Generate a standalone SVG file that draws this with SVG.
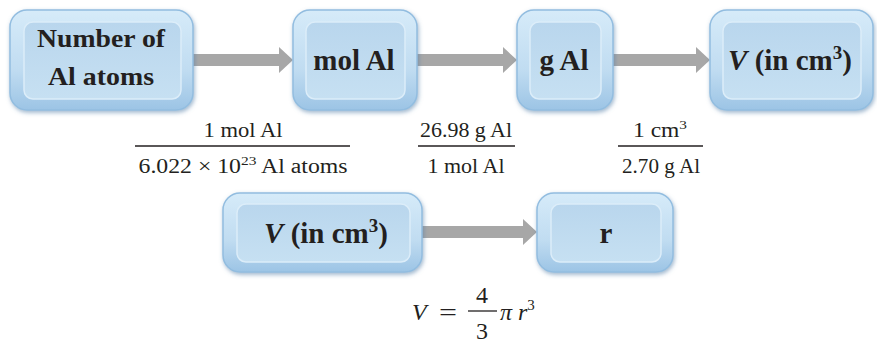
<svg xmlns="http://www.w3.org/2000/svg" width="877" height="344" viewBox="0 0 877 344">
<defs>
<linearGradient id="outer" x1="0" y1="0" x2="0" y2="1">
<stop offset="0" stop-color="#d6ebf9"/>
<stop offset="0.6" stop-color="#c0dcf1"/>
<stop offset="1" stop-color="#9cc4e5"/>
</linearGradient>
<linearGradient id="inner" x1="0" y1="0" x2="0" y2="1">
<stop offset="0" stop-color="#b9d6ed"/>
<stop offset="1" stop-color="#c6e0f2"/>
</linearGradient>
<filter id="sh" x="-10%" y="-10%" width="125%" height="130%">
<feDropShadow dx="1" dy="2" stdDeviation="2" flood-color="#4f7ba6" flood-opacity="0.55"/>
</filter>
<marker id="ah" markerUnits="userSpaceOnUse" markerWidth="14" markerHeight="26" viewBox="0 0 14 26" refX="0" refY="13" orient="auto">
<path d="M0,0 L14,13 L0,26 Z" fill="#a7a7a7"/>
</marker>
</defs>
<style>
.ob{fill:url(#outer);stroke:#92bde0;stroke-width:1.5;filter:url(#sh)}
.ib{fill:url(#inner);stroke:#dcedf9;stroke-width:1.5}
.lb{font-family:"Liberation Serif",serif;font-weight:bold;fill:#231f20;text-anchor:middle}
.fr{font-family:"Liberation Serif",serif;font-size:20px;fill:#231f20;text-anchor:middle}
.ln{stroke:#231f20;stroke-width:1.3}
.ar{stroke:#a7a7a7;stroke-width:12;marker-end:url(#ah)}
</style>
<rect width="877" height="344" fill="#ffffff"/>

<g id="connectors">
<line class="ar" x1="192" y1="60" x2="279" y2="60"/>
<line class="ar" x1="416" y1="60" x2="503" y2="60"/>
<line class="ar" x1="612" y1="60" x2="696" y2="60"/>
<line class="ar" x1="421" y1="232" x2="523" y2="232"/>
</g>

<g id="n-atoms">
<rect class="ob" x="10" y="10" width="183" height="100" rx="17"/>
<rect class="ib" x="24" y="22" width="157" height="77" rx="9"/>
<text class="lb" x="101" y="47" font-size="26" textLength="128" lengthAdjust="spacingAndGlyphs">Number of</text>
<text class="lb" x="101" y="85" font-size="26" textLength="106" lengthAdjust="spacingAndGlyphs">Al atoms</text>
</g>

<g id="n-mol">
<rect class="ob" x="293" y="10" width="124" height="100" rx="17"/>
<rect class="ib" x="306" y="22" width="99" height="77" rx="9"/>
<text class="lb" x="354" y="70" font-size="29">mol Al</text>
</g>

<g id="n-gram">
<rect class="ob" x="517" y="10" width="96" height="100" rx="17"/>
<rect class="ib" x="530" y="22" width="71" height="77" rx="9"/>
<text class="lb" x="564" y="70" font-size="29">g Al</text>
</g>

<g id="n-vol">
<rect class="ob" x="710" y="10" width="163" height="100" rx="17"/>
<rect class="ib" x="723" y="22" width="138" height="77" rx="9"/>
<text class="lb" x="790" y="70" font-size="29"><tspan font-style="italic">V</tspan> (in cm<tspan font-size="19" dy="-11">3</tspan><tspan dy="11">)</tspan></text>
</g>

<g id="n-vol2">
<rect class="ob" x="223" y="193" width="199" height="79" rx="17"/>
<rect class="ib" x="237" y="204" width="173" height="58" rx="9"/>
<text class="lb" x="326" y="243" font-size="29"><tspan font-style="italic">V</tspan> (in cm<tspan font-size="19" dy="-11">3</tspan><tspan dy="11">)</tspan></text>
</g>

<g id="n-r">
<rect class="ob" x="537" y="193" width="136" height="79" rx="17"/>
<rect class="ib" x="551" y="204" width="110" height="58" rx="9"/>
<text class="lb" x="606" y="243" font-size="29">r</text>
</g>

<g id="f1">
<text class="fr" x="243" y="137" textLength="79" lengthAdjust="spacingAndGlyphs">1 mol Al</text>
<line class="ln" x1="135" y1="146" x2="350" y2="146"/>
<text class="fr" x="243" y="173" textLength="209" lengthAdjust="spacingAndGlyphs">6.022 × 10<tspan font-size="13" dy="-8">23</tspan><tspan dy="8"> Al atoms</tspan></text>
</g>

<g id="f2">
<text class="fr" x="466" y="137" textLength="92" lengthAdjust="spacingAndGlyphs">26.98 g Al</text>
<line class="ln" x1="418" y1="146" x2="515" y2="146"/>
<text class="fr" x="466" y="173" textLength="77" lengthAdjust="spacingAndGlyphs">1 mol Al</text>
</g>

<g id="f3">
<text class="fr" x="660" y="137" textLength="54" lengthAdjust="spacingAndGlyphs">1 cm<tspan font-size="13" dy="-8">3</tspan></text>
<line class="ln" x1="618" y1="146" x2="703" y2="146"/>
<text class="fr" x="661" y="173" textLength="78" lengthAdjust="spacingAndGlyphs">2.70 g Al</text>
</g>

<g id="formula" font-family="Liberation Serif, serif" font-size="24" fill="#231f20">
<text x="412" y="320" font-style="italic">V</text>
<text x="439" y="320" textLength="18" lengthAdjust="spacingAndGlyphs">=</text>
<text x="482" y="303" text-anchor="middle">4</text>
<line class="ln" x1="468" y1="311" x2="497" y2="311"/>
<text x="482" y="339" text-anchor="middle">3</text>
<text x="500" y="320" font-style="italic">π</text>
<text x="518" y="320" font-style="italic">r<tspan font-size="15" font-style="normal" dy="-10">3</tspan></text>
</g>
</svg>
